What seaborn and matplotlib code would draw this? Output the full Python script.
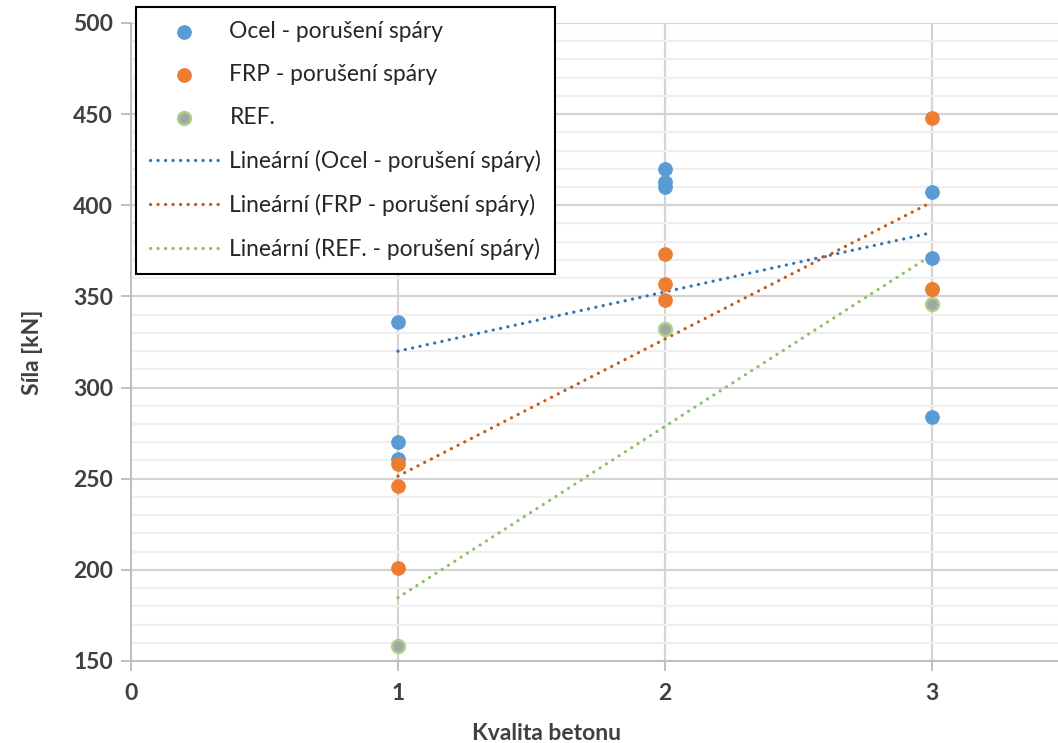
import matplotlib
matplotlib.use("Agg")
import matplotlib.pyplot as plt
from matplotlib.ticker import MultipleLocator
import seaborn as sns
import pandas as pd

# data
ocel_x = [1, 1, 1, 2, 2, 2, 3, 3, 3]
ocel_y = [336, 270, 261, 420, 413, 410, 407, 371, 284]
frp_x = [1, 1, 1, 2, 2, 2, 3, 3, 3]
frp_y = [258, 246, 201, 373, 357, 348, 448, 354, 354]
ref_x = [1, 2, 3]
ref_y = [158, 332, 346]

series_labels = ["Ocel - porušení spáry", "FRP - porušení spáry", "REF."]
trend_labels = [
    "Lineární (Ocel - porušení spáry)",
    "Lineární (FRP - porušení spáry)",
    "Lineární (REF. - porušení spáry)",
]

sns.set_theme(style="white")
plt.rcParams["font.family"] = ["Lato", "DejaVu Sans"]

fig = plt.figure(figsize=(10.58, 7.43), dpi=100)
ax = fig.add_axes([0.1238, 0.1104, 0.883, 0.8587])

ocel = pd.DataFrame({"x": ocel_x, "y": ocel_y})
frp = pd.DataFrame({"x": frp_x, "y": frp_y})
ref = pd.DataFrame({"x": ref_x, "y": ref_y})

dot = (0, (0.05, 2.3))
trend_style = {"linestyle": dot, "linewidth": 2.3, "dash_capstyle": "round", "zorder": 3}
sns.regplot(data=ocel, x="x", y="y", scatter=False, ci=None, truncate=True, ax=ax,
            label=trend_labels[0], line_kws={"color": "#2E75B6", **trend_style})
sns.regplot(data=frp, x="x", y="y", scatter=False, ci=None, truncate=True, ax=ax,
            label=trend_labels[1], line_kws={"color": "#C55A11", **trend_style})
sns.regplot(data=ref, x="x", y="y", scatter=False, ci=None, truncate=True, ax=ax,
            label=trend_labels[2], line_kws={"color": "#8CC168", **trend_style})

sns.scatterplot(data=ocel, x="x", y="y", ax=ax, color="#5B9BD5", edgecolor="#5B9BD5",
                linewidth=0.8, s=95, label=series_labels[0], zorder=4)
sns.scatterplot(data=frp, x="x", y="y", ax=ax, color="#ED7D31", edgecolor="#ED7D31",
                linewidth=0.8, s=95, label=series_labels[1], zorder=4)
sns.scatterplot(data=ref, x="x", y="y", ax=ax, color="#A5A5A5", edgecolor="#A9D18E",
                linewidth=1.8, s=85, label=series_labels[2], zorder=4)

ax.set_xlim(0, 3.5)
ax.set_ylim(150, 500)
ax.xaxis.set_major_locator(MultipleLocator(1))
ax.yaxis.set_major_locator(MultipleLocator(50))
ax.yaxis.set_minor_locator(MultipleLocator(10))

ax.grid(True, which="major", axis="both", color="#D4D4D4", linewidth=1.6, zorder=0)
ax.grid(True, which="minor", axis="y", color="#EFEFEF", linewidth=1.6, zorder=0)
ax.set_axisbelow(True)

for side in ["top", "right"]:
    ax.spines[side].set_visible(False)
for side in ["left", "bottom"]:
    ax.spines[side].set_color("#BFBFBF")
    ax.spines[side].set_linewidth(1.4)

ax.tick_params(axis="both", which="major", direction="out", length=7, width=1.4,
               color="#BFBFBF", labelcolor="#404040", labelsize=16.5, pad=6)
ax.tick_params(axis="x", bottom=True, pad=9)
ax.tick_params(axis="y", left=True)
ax.tick_params(axis="both", which="minor", length=0)
ax.set_xticks([0, 1, 2, 3])
for lbl in ax.get_xticklabels() + ax.get_yticklabels():
    lbl.set_fontweight("bold")

ax.set_xlabel("Kvalita betonu", fontsize=16.5, fontweight="bold", color="#404040")
ax.set_ylabel("Síla [kN]", fontsize=16.5, fontweight="bold", color="#404040")
ax.xaxis.set_label_coords(0.445, -0.097)
ax.yaxis.set_label_coords(-0.094, 0.483)

handles, labels = ax.get_legend_handles_labels()
order = [labels.index(l) for l in series_labels + trend_labels]
leg = ax.legend([handles[i] for i in order], [labels[i] for i in order],
                loc="upper left", bbox_to_anchor=(0.0054, 1.025), fontsize=16.4,
                frameon=True, fancybox=False, edgecolor="black", framealpha=1,
                handlelength=3.0, handletextpad=0.5, labelspacing=0.97,
                borderpad=0.6, borderaxespad=0)
leg.get_frame().set_linewidth(1.5)
for t in leg.get_texts():
    t.set_color("#262626")

fig.savefig("out.png", dpi=100)
